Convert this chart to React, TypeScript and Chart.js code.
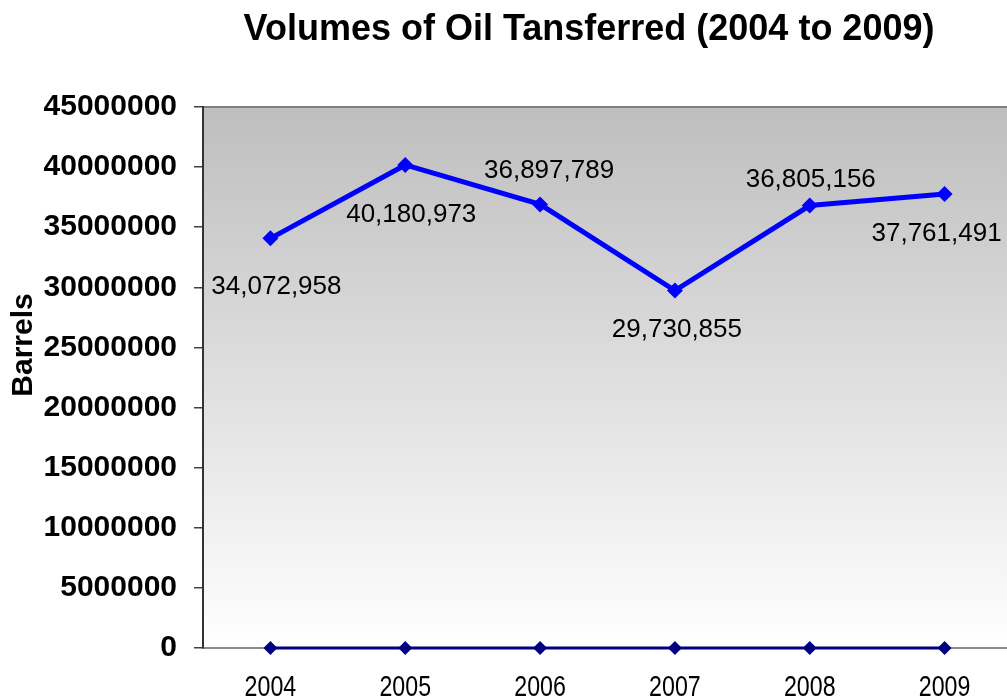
import React, { useEffect, useRef } from "react";
import { Chart, registerables } from "chart.js";

Chart.register(...registerables);

const titleText = "Volumes of Oil Tansferred (2004 to 2009)";
const yAxisTitle = "Barrels";
const years = ["2004", "2005", "2006", "2007", "2008", "2009"];
const barrels = [34072958, 40180973, 36897789, 29730855, 36805156, 37761491];
const baseline = [0, 0, 0, 0, 0, 0];
const yMin = 0;
const yMax = 45000000;
const yStep = 5000000;

// label offsets (dx, dy of label centre relative to its point), style only
const labelDx = [6, 6, 9, 2, 1, -8];
const labelDy = [46, 48, -36, 37, -28, 38];

const FONT = '"Liberation Sans", Arial, sans-serif';

const fmt = (v: number) => v.toLocaleString("en-US");

export default function App() {
  const ref = useRef<HTMLCanvasElement | null>(null);

  useEffect(() => {
    if (!ref.current) return;
    const decor = {
      id: "decor",
      beforeDraw(chart: any) {
        const { ctx, chartArea: a } = chart;
        ctx.save();
        const g = ctx.createLinearGradient(0, a.top, 0, a.bottom);
        g.addColorStop(0, "#bebebe");
        g.addColorStop(1, "#ffffff");
        ctx.fillStyle = g;
        ctx.fillRect(a.left, a.top, a.right - a.left, a.bottom - a.top);
        ctx.strokeStyle = "#808080";
        ctx.lineWidth = 2;
        ctx.beginPath();
        ctx.moveTo(a.left, a.top);
        ctx.lineTo(a.right, a.top);
        ctx.stroke();
        // title
        ctx.fillStyle = "#000";
        ctx.font = `bold 36px ${FONT}`;
        ctx.textAlign = "center";
        ctx.textBaseline = "alphabetic";
        ctx.fillText(titleText, 589, 40);
        // x tick labels (condensed)
        const xs = chart.scales.x;
        ctx.font = `29px ${FONT}`;
        years.forEach((lab, i) => {
          const px = xs.getPixelForValue(i);
          ctx.save();
          ctx.translate(px, 696);
          ctx.scale(0.8, 1);
          ctx.fillText(lab, 0, 0);
          ctx.restore();
        });
        // y axis title
        ctx.translate(32, 345);
        ctx.rotate(-Math.PI / 2);
        ctx.font = `bold 30px ${FONT}`;
        ctx.fillText(yAxisTitle, 0, 0);
        ctx.restore();
      },
      afterDatasetsDraw(chart: any) {
        const { ctx } = chart;
        const meta = chart.getDatasetMeta(0);
        ctx.save();
        ctx.fillStyle = "#000";
        ctx.font = `26px ${FONT}`;
        ctx.textAlign = "center";
        ctx.textBaseline = "alphabetic";
        meta.data.forEach((pt: any, i: number) => {
          ctx.fillText(fmt(barrels[i]), pt.x + labelDx[i], pt.y + labelDy[i] + 9.3);
        });
        ctx.restore();
      },
    };

    const chart = new Chart(ref.current, {
      type: "line",
      data: {
        labels: years,
        datasets: [
          {
            label: "Volumes",
            data: barrels,
            borderColor: "#0000ff",
            backgroundColor: "#0000ff",
            borderWidth: 5,
            pointStyle: "rectRot",
            pointRadius: 8,
            pointBorderWidth: 0,
            tension: 0,
            clip: false,
          },
          {
            label: "Baseline",
            data: baseline,
            borderColor: "#000080",
            backgroundColor: "#000080",
            borderWidth: 3,
            pointStyle: "rectRot",
            pointRadius: 7,
            pointBorderWidth: 0,
            tension: 0,
            clip: false,
          },
        ],
      },
      options: {
        animation: false,
        responsive: false,
        devicePixelRatio: 1,
        layout: { autoPadding: false, padding: { left: 0, top: 107, right: 0, bottom: 0 } },
        plugins: {
          legend: { display: false },
          title: { display: false },
          tooltip: { enabled: false },
        },
        scales: {
          x: {
            type: "category",
            offset: true,
            grid: { display: false },
            border: { display: true, color: "#8c8c8c", width: 2 },
            ticks: { display: false },
            afterFit(scale: any) {
              scale.height = 48;
              scale.paddingLeft = 0;
              scale.paddingRight = 0;
            },
          },
          y: {
            min: yMin,
            max: yMax,
            grid: {
              drawOnChartArea: false,
              drawTicks: true,
              tickLength: 9,
              color: "#404040",
              lineWidth: 1.5,
            },
            border: { display: true, color: "#333333", width: 2 },
            ticks: {
              stepSize: yStep,
              color: "#000",
              padding: 17,
              font: { family: FONT, size: 30, weight: "bold" },
              callback: (v: any) => String(v),
            },
            afterFit(scale: any) {
              scale.width = 203;
              scale.paddingTop = 0;
              scale.paddingBottom = 0;
            },
          },
        },
      },
      plugins: [decor],
    } as any);
    return () => chart.destroy();
  }, []);

  return (
    <div
      style={{
        position: "fixed",
        left: 0,
        top: 0,
        width: 1007,
        height: 696,
        overflow: "hidden",
        background: "#fff",
      }}
    >
      <canvas ref={ref} width={1012} height={696} style={{ display: "block" }} />
    </div>
  );
}
